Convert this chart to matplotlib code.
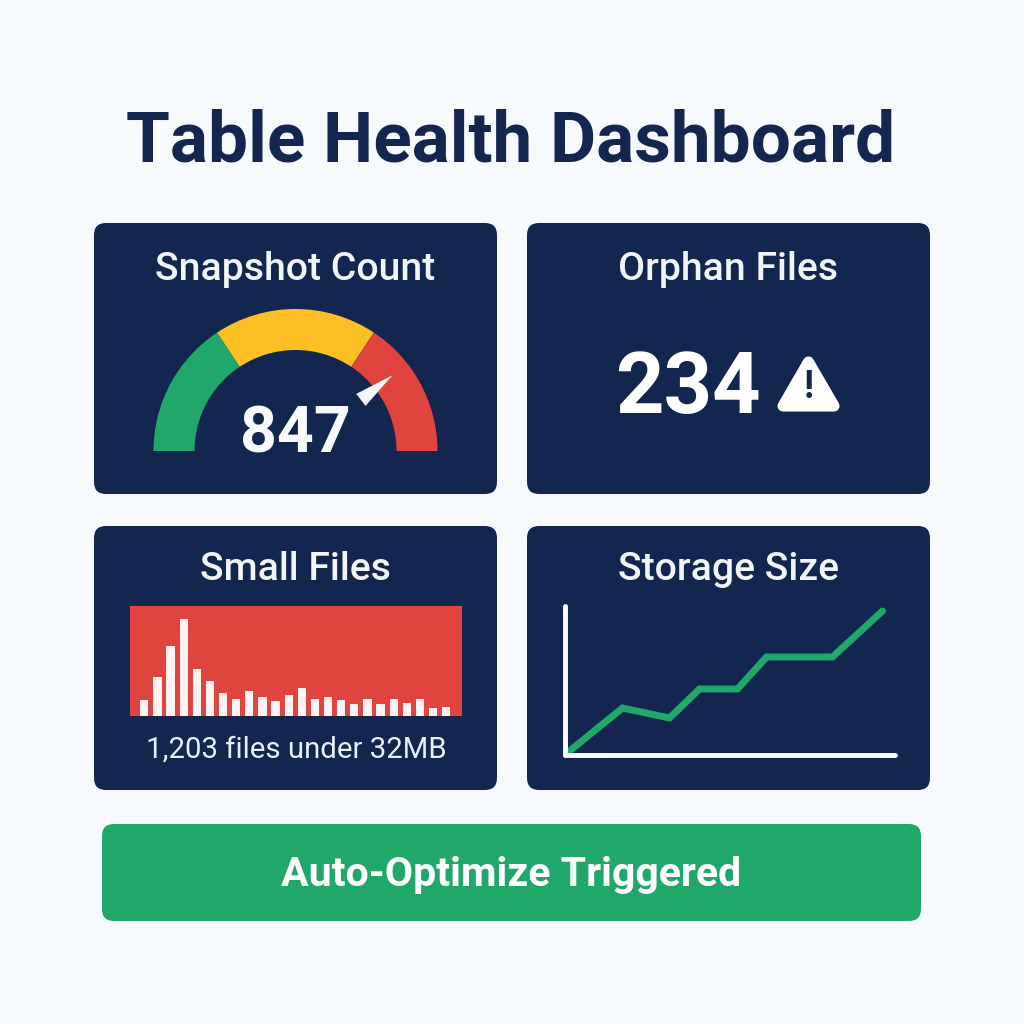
import numpy as np
import matplotlib
matplotlib.use("Agg")
import matplotlib.pyplot as plt
from matplotlib.patches import FancyBboxPatch, Wedge, Polygon

plt.rcParams['font.family'] = ['Roboto', 'DejaVu Sans']

# ---- data ----
title = "Table Health Dashboard"
card_titles = ["Snapshot Count", "Orphan Files", "Small Files", "Storage Size"]
snapshot_count = "847"
orphan_count = "234"
small_files_note = "1,203 files under 32MB"
button_label = "Auto-Optimize Triggered"
gauge_spans = [56.5, 67.0, 56.5]          # degrees: green, yellow, red
needle_angle = 38.0
small_file_bars = [16, 39, 70, 97, 47, 35, 23, 17, 25, 19, 15, 21, 28, 17, 19, 16, 12, 17, 12, 17, 13, 17, 8, 9]
storage_x = [5, 58, 105, 135, 173, 202, 268, 318]
storage_y = [4, 47, 37, 66, 66, 98, 98, 144]

# ---- style ----
BG = "#f7fafc"; NAVY = "#12264f"; TITLE = "#14264f"
GREEN = "#20a86b"; YELLOW = "#fcc024"; RED = "#e0443f"; WHITE = "#ffffff"
gauge_colors = [GREEN, YELLOW, RED]

fig = plt.figure(figsize=(10.24, 10.24), dpi=100, facecolor=BG)
base = fig.add_axes([0, 0, 1, 1]); base.set_xlim(0, 1024); base.set_ylim(1024, 0); base.axis("off")

def px_axes(x0, y0, x1, y1):
    return fig.add_axes([x0/1024, 1-y1/1024, (x1-x0)/1024, (y1-y0)/1024])

def card(x0, y0, x1, y1, color=NAVY, r=12):
    base.add_patch(FancyBboxPatch((x0+r, y0+r), x1-x0-2*r, y1-y0-2*r,
                   boxstyle=f"round,pad={r},rounding_size={r}", fc=color, ec="none"))

cards = [(94, 223, 497, 494), (527, 223, 930, 494), (94, 526, 497, 790), (527, 526, 930, 790)]
title_y = [269, 269, 570, 570]
for c, name, ty in zip(cards, card_titles, title_y):
    card(*c)
    base.text((c[0]+c[2])/2, ty, name, color="#f2f6fb", fontsize=28.2, ha="center", va="center", fontweight="medium")

card(102, 824, 921, 921, GREEN)
base.text(511.5, 875, button_label, color=WHITE, fontsize=29.5, ha="center", va="center", fontweight="bold")
base.text(511, 142, title, color=TITLE, fontsize=51.2, ha="center", va="center", fontweight="bold")

# gauge
ga = px_axes(145.5, 301, 445.5, 461)
ga.set_xlim(-150, 150); ga.set_ylim(-10, 150); ga.axis("off")
theta = 180.0
for span, col in zip(gauge_spans, gauge_colors):
    ga.add_patch(Wedge((0, 0), 142, theta-span, theta, width=41, fc=col, ec="none"))
    theta -= span
a = np.deg2rad(needle_angle)
u = np.array([np.cos(a), np.sin(a)]); n = np.array([-u[1], u[0]])
ga.add_patch(Polygon([u*123, u*83+n*7.6, u*83-n*7.6], closed=True, fc="#f4f6fa", ec="none"))
base.text(295, 435, snapshot_count, color="#f8fafd", fontsize=46.4, ha="center", va="center", fontweight="bold")

# orphan
base.text(688, 390, orphan_count, color=WHITE, fontsize=61, ha="center", va="center", fontweight="bold")
base.add_patch(Polygon([(808.5, 362), (783, 406), (834, 406)], closed=True, fc=WHITE, ec=WHITE, lw=8, joinstyle="round"))
base.text(808.5, 388, "!", color=NAVY, fontsize=27, ha="center", va="center", fontweight="bold")

# small-file histogram
hist = px_axes(130, 606, 462, 716)
hist.set_facecolor(RED)
hist.set_xlim(-1.09, 24.2); hist.set_ylim(0, 110)
hist.bar(np.arange(len(small_file_bars)), small_file_bars, width=0.63, color="#fdf3f1")
hist.set_xticks([]); hist.set_yticks([])
for s in hist.spines.values(): s.set_visible(False)
base.text(296, 750, small_files_note, color="#e9f1fa", fontsize=21.2, ha="center", va="center")

# storage line
ln = px_axes(564.5, 606, 894.5, 755)
ln.patch.set_alpha(0)
ln.set_xlim(0, 330); ln.set_ylim(0, 149)
ln.plot(storage_x, storage_y, color=GREEN, lw=5, solid_joinstyle="miter", solid_capstyle="round")
ln.set_xticks([]); ln.set_yticks([])
for k in ("top", "right"): ln.spines[k].set_visible(False)
for k in ("left", "bottom"):
    ln.spines[k].set_color(WHITE); ln.spines[k].set_linewidth(3.5); ln.spines[k].set_capstyle("round")

fig.savefig("out.png", dpi=100, facecolor=BG)
